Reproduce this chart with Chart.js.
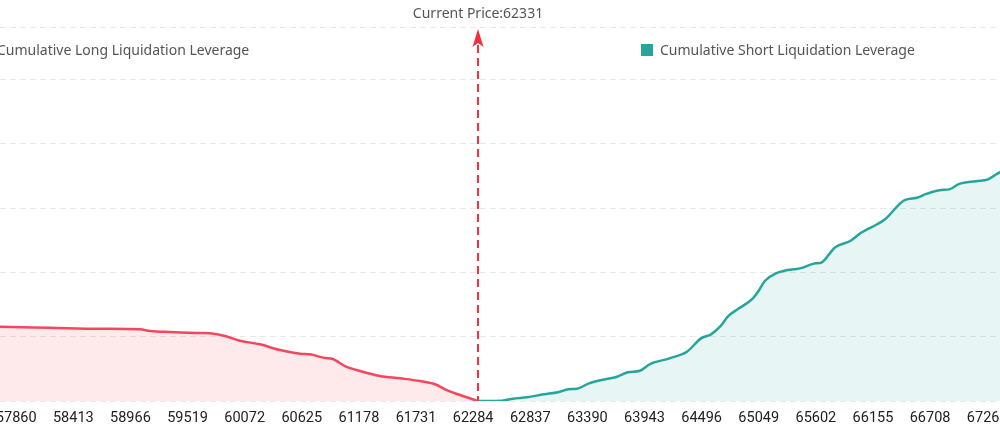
<!DOCTYPE html>
<html>
<head>
<meta charset="utf-8">
<script src="https://cdn.jsdelivr.net/npm/chart.js@4/dist/chart.umd.min.js"></script>
<style>
  html, body { margin: 0; padding: 0; background: #ffffff; overflow: hidden; width: 1000px; height: 435px; }
  #wrap { position: absolute; left: -50px; top: 0; width: 1100px; height: 435px; }
</style>
</head>
<body>
<div id="wrap"><canvas id="c" width="1100" height="435"></canvas></div>
<script>
// ---- data ----
const seriesNames = ['Cumulative Long Liquidation Leverage', 'Cumulative Short Liquidation Leverage'];
const currentPrice = 62331;
const tickLabels = [57860, 58413, 58966, 59519, 60072, 60625, 61178, 61731, 62284,
                    62837, 63390, 63943, 64496, 65049, 65602, 66155, 66708, 67261];

const longPrices = [57219, 57703, 58187, 58671, 59059, 59155, 59349, 59640, 59736, 59882,
                    60027, 60220, 60414, 60608, 60705, 60850, 60918, 61043, 61189, 61382,
                    61576, 61769, 61915, 62041, 62157, 62331];
const longValues = [1.162, 1.156, 1.140, 1.124, 1.115, 1.089, 1.073, 1.058, 1.053, 1.011,
                    0.938, 0.882, 0.793, 0.736, 0.726, 0.669, 0.658, 0.544, 0.467, 0.389,
                    0.353, 0.311, 0.260, 0.160, 0.093, 0];

const shortPrices = [62331, 62563, 62670, 62805, 62970, 63106, 63207, 63289, 63406, 63528,
                     63677, 63783, 63899, 63996, 64185, 64354, 64490, 64587, 64674, 64758,
                     64858, 64993, 65042, 65110, 65216, 65298, 65448, 65603, 65652, 65787,
                     65939, 66039, 66262, 66462, 66581, 66664, 66799, 66901, 66985, 67152,
                     67269, 67336, 67385, 67869];
const shortValues = [0, 0.005, 0.036, 0.058, 0.104, 0.135, 0.182, 0.191, 0.275, 0.327,
                     0.378, 0.446, 0.471, 0.575, 0.664, 0.767, 0.975, 1.037, 1.156, 1.327,
                     1.442, 1.597, 1.700, 1.871, 1.986, 2.026, 2.064, 2.142, 2.151, 2.390,
                     2.493, 2.617, 2.815, 3.126, 3.162, 3.219, 3.281, 3.297, 3.375, 3.421,
                     3.448, 3.515, 3.560, 3.700];

const xMin = 57219, xMax = 67869;
const yMax = 5.82, yStep = 1;

// ---- styles ----
const RED = '#f6465d';
const RED_FILL = 'rgba(246,70,93,0.12)';
const TEAL = '#26a69a';
const TEAL_FILL = 'rgba(38,166,154,0.11)';
const ARROW = '#f2303e';
const TEXT_FONT = '"Noto Sans", "Open Sans", sans-serif';

const overlay = {
  id: 'overlay',
  afterDatasetsDraw(chart) {
    const ctx = chart.ctx;
    const xs = chart.scales.x;
    const area = chart.chartArea;
    const px = Math.round(xs.getPixelForValue(currentPrice));
    ctx.save();
    // dashed vertical line
    ctx.strokeStyle = ARROW;
    ctx.lineWidth = 2;
    ctx.setLineDash([8, 5]);
    ctx.beginPath();
    ctx.moveTo(px, 45);
    ctx.lineTo(px, area.bottom);
    ctx.stroke();
    ctx.setLineDash([]);
    // arrow head
    ctx.fillStyle = ARROW;
    ctx.beginPath();
    ctx.moveTo(px, 29);
    ctx.lineTo(px - 5.5, 47);
    ctx.lineTo(px, 43);
    ctx.lineTo(px + 5.5, 47);
    ctx.closePath();
    ctx.fill();
    // current price label
    ctx.fillStyle = '#555555';
    ctx.font = '14px ' + TEXT_FONT;
    ctx.textAlign = 'center';
    ctx.textBaseline = 'middle';
    ctx.fillText('Current Price:' + currentPrice, px, 14);
    // legends
    ctx.textAlign = 'left';
    const items = [
      { boxX: 28, color: RED, text: chart.data.datasets[0].label },
      { boxX: 691, color: TEAL, text: chart.data.datasets[1].label }
    ];
    items.forEach(it => {
      ctx.fillStyle = it.color;
      ctx.fillRect(it.boxX, 44, 12, 12);
      ctx.fillStyle = '#555555';
      ctx.fillText(it.text, it.boxX + 19, 51);
    });
    ctx.restore();
  }
};

new Chart(document.getElementById('c'), {
  type: 'line',
  data: {
    datasets: [
      {
        label: seriesNames[0],
        data: longPrices.map((p, i) => ({ x: p, y: longValues[i] })),
        borderColor: RED,
        backgroundColor: RED_FILL,
        borderWidth: 2.5,
        fill: 'origin',
        pointRadius: 0,
        cubicInterpolationMode: 'monotone'
      },
      {
        label: seriesNames[1],
        data: shortPrices.map((p, i) => ({ x: p, y: shortValues[i] })),
        borderColor: TEAL,
        backgroundColor: TEAL_FILL,
        borderWidth: 2.5,
        fill: 'origin',
        pointRadius: 0,
        cubicInterpolationMode: 'monotone'
      }
    ]
  },
  options: {
    responsive: false,
    animation: false,
    devicePixelRatio: 1,
    layout: { padding: { top: 27, bottom: 0, left: 0, right: 0 } },
    plugins: { legend: { display: false }, tooltip: { enabled: false } },
    scales: {
      x: {
        type: 'linear',
        min: xMin,
        max: xMax,
        grid: { display: false, drawTicks: false },
        border: { display: false },
        afterBuildTicks: (scale) => { scale.ticks = tickLabels.map(v => ({ value: v })); },
        ticks: {
          autoSkip: false,
          maxRotation: 0,
          padding: 8.3,
          color: '#222222',
          font: { family: 'Roboto, "DejaVu Sans Condensed", sans-serif', size: 14.5 },
          callback: (v) => String(v)
        }
      },
      y: {
        min: 0,
        max: yMax,
        ticks: { display: false, stepSize: yStep },
        grid: { color: '#e8e8e8', lineWidth: 1, drawTicks: false },
        border: { display: false, dash: [6, 4] }
      }
    }
  },
  plugins: [overlay]
});
</script>
</body>
</html>
